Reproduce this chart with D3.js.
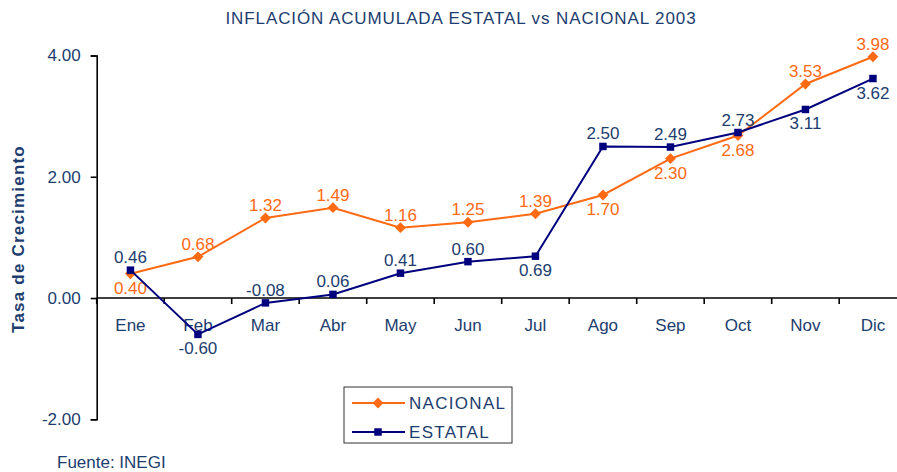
<!DOCTYPE html>
<html>
<head>
<meta charset="utf-8">
<script src="https://cdn.jsdelivr.net/npm/d3@7"></script>
<style>
  body { margin: 0; background: #fff; }
  svg { display: block; font-family: "Liberation Sans", Arial, sans-serif; }
</style>
</head>
<body>
<div id="vis"></div>
<script>
// Data
var months = ['Ene', 'Feb', 'Mar', 'Abr', 'May', 'Jun', 'Jul', 'Ago', 'Sep', 'Oct', 'Nov', 'Dic'];
var nacional = [0.40, 0.68, 1.32, 1.49, 1.16, 1.25, 1.39, 1.70, 2.30, 2.68, 3.53, 3.98];
var estatal = [0.46, -0.60, -0.08, 0.06, 0.41, 0.60, 0.69, 2.50, 2.49, 2.73, 3.11, 3.62];
var yTicks = [-2, 0, 2, 4];
// where each value label sits: 'a' above the point, 'b' below
var nacionalLabelPos = ['b', 'a', 'a', 'a', 'a', 'a', 'a', 'b', 'b', 'b', 'a', 'a'];
var estatalLabelPos = ['a', 'b', 'a', 'a', 'a', 'a', 'b', 'a', 'a', 'a', 'b', 'b'];

var width = 897;
var height = 472;
var textColor = '#1c3d6e';
var orange = '#ff6a13';
var navy = '#00007f';

var svg = d3.select('#vis').append('svg')
  .attr('width', width)
  .attr('height', height);

// plot area runs past the right edge, like the original
var x = d3.scaleBand().domain(months).range([96.7, 906.7]);
var y = d3.scaleLinear().domain([-2, 4]).range([419.3, 55.5]);

// title
svg.append('text')
  .attr('x', 461)
  .attr('y', 24)
  .attr('text-anchor', 'middle')
  .attr('fill', textColor)
  .style('font-size', '17px')
  .style('letter-spacing', '0.9px')
  .text('INFLACIÓN ACUMULADA ESTATAL vs NACIONAL 2003');

// y axis
var yAxis = d3.axisLeft(y)
  .tickValues(yTicks)
  .tickSize(6)
  .tickPadding(10)
  .tickFormat(function (d) { return d.toFixed(2); });

var gy = svg.append('g')
  .attr('transform', 'translate(' + x.range()[0] + ',0)')
  .call(yAxis);
gy.select('.domain').attr('stroke', '#000').attr('stroke-width', 1.6);
gy.selectAll('.tick line').attr('stroke', '#000').attr('stroke-width', 1.6);
gy.selectAll('.tick text')
  .attr('fill', textColor)
  .style('font-size', '17px')
  .style('font-family', '"Liberation Sans", Arial, sans-serif');

// x axis at zero, ticks between categories
var gx = svg.append('g')
  .attr('transform', 'translate(0,' + y(0) + ')');
gx.append('line')
  .attr('x1', x.range()[0])
  .attr('x2', x.range()[1])
  .attr('stroke', '#000')
  .attr('stroke-width', 1.6);
gx.selectAll('.xtick')
  .data(months.concat(['end']))
  .enter().append('line')
  .attr('class', 'xtick')
  .attr('x1', function (d, i) { return x.range()[0] + i * x.bandwidth(); })
  .attr('x2', function (d, i) { return x.range()[0] + i * x.bandwidth(); })
  .attr('y1', 0)
  .attr('y2', 6)
  .attr('stroke', '#000')
  .attr('stroke-width', 1.6);
gx.selectAll('.xlabel')
  .data(months)
  .enter().append('text')
  .attr('class', 'xlabel')
  .attr('x', function (d) { return x(d) + x.bandwidth() / 2; })
  .attr('y', 33)
  .attr('text-anchor', 'middle')
  .attr('fill', textColor)
  .style('font-size', '17px')
  .text(function (d) { return d; });

// y axis title
svg.append('text')
  .attr('transform', 'translate(24,239) rotate(-90)')
  .attr('text-anchor', 'middle')
  .attr('fill', textColor)
  .style('font-size', '17px')
  .style('font-weight', 'bold')
  .style('letter-spacing', '1.2px')
  .text('Tasa de Crecimiento');

function cx(i) { return x(months[i]) + x.bandwidth() / 2; }

var line = d3.line()
  .x(function (d, i) { return cx(i); })
  .y(function (d) { return y(d); });

// draws one series with its markers and value labels
function drawSeries(values, color, labelColor, labelPos, shape, size) {
  svg.append('path')
    .datum(values)
    .attr('fill', 'none')
    .attr('stroke', color)
    .attr('stroke-width', 2)
    .attr('d', line);

  svg.selectAll(null)
    .data(values)
    .enter().append('path')
    .attr('transform', function (d, i) { return 'translate(' + cx(i) + ',' + y(d) + ')'; })
    .attr('d', d3.symbol().type(shape).size(size))
    .attr('fill', color);

  svg.selectAll(null)
    .data(values)
    .enter().append('text')
    .attr('x', function (d, i) { return cx(i); })
    .attr('y', function (d, i) { return labelPos[i] === 'a' ? y(d) - 7 : y(d) + 20; })
    .attr('text-anchor', 'middle')
    .attr('fill', labelColor)
    .style('font-size', '17px')
    .text(function (d) { return d.toFixed(2); });
}

drawSeries(nacional, orange, orange, nacionalLabelPos, d3.symbolDiamond2, 75);
drawSeries(estatal, navy, textColor, estatalLabelPos, d3.symbolSquare, 56);

// legend
var legend = svg.append('g').attr('transform', 'translate(344,387)');
legend.append('rect')
  .attr('width', 168)
  .attr('height', 56)
  .attr('fill', '#fff')
  .attr('stroke', '#333')
  .attr('stroke-width', 1);

var legendItems = [
  { name: 'NACIONAL', color: orange, shape: d3.symbolDiamond2, size: 75 },
  { name: 'ESTATAL', color: navy, shape: d3.symbolSquare, size: 56 }
];
legendItems.forEach(function (item, i) {
  var ly = 16 + i * 29;
  legend.append('line')
    .attr('x1', 8).attr('x2', 61)
    .attr('y1', ly).attr('y2', ly)
    .attr('stroke', item.color)
    .attr('stroke-width', 2);
  legend.append('path')
    .attr('transform', 'translate(34,' + ly + ')')
    .attr('d', d3.symbol().type(item.shape).size(item.size))
    .attr('fill', item.color);
  legend.append('text')
    .attr('x', 65)
    .attr('y', ly + 6)
    .attr('fill', textColor)
    .style('font-size', '17px')
    .style('letter-spacing', '1.3px')
    .text(item.name);
});

// source note
svg.append('text')
  .attr('x', 57)
  .attr('y', 468)
  .attr('fill', textColor)
  .style('font-size', '17px')
  .text('Fuente: INEGI');
</script>
</body>
</html>
